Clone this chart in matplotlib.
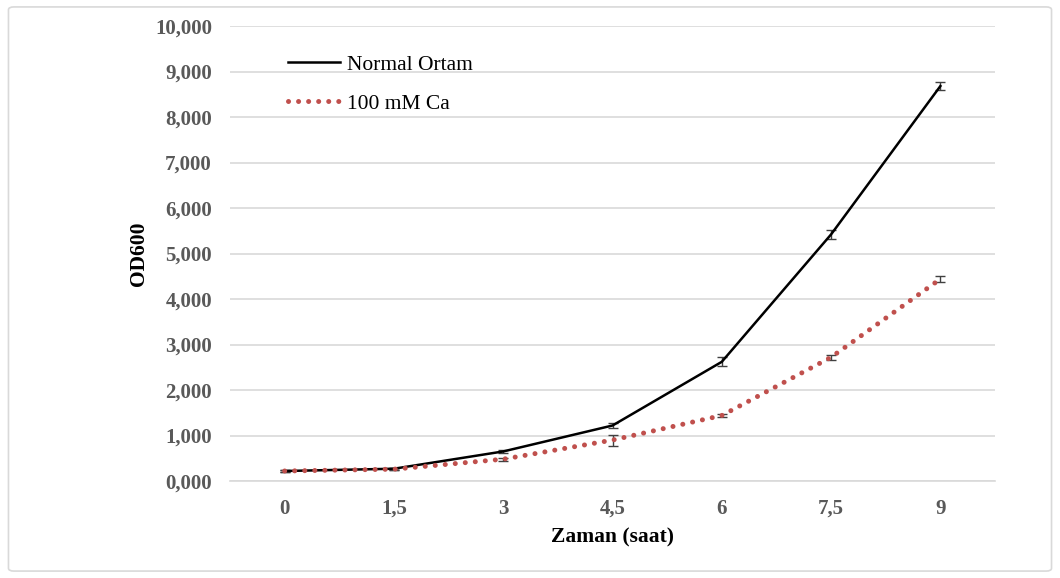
import matplotlib.pyplot as plt
from matplotlib.patches import FancyBboxPatch
from matplotlib.ticker import FuncFormatter

plt.rcParams['font.family'] = ['Liberation Serif', 'DejaVu Serif']

times = ['0', '1,5', '3', '4,5', '6', '7,5', '9']
normal = [0.22, 0.27, 0.65, 1.22, 2.62, 5.42, 8.68]
normal_err = [0.02, 0.02, 0.03, 0.05, 0.10, 0.10, 0.08]
calcium = [0.22, 0.26, 0.48, 0.90, 1.44, 2.72, 4.44]
calcium_err = [0.02, 0.02, 0.03, 0.12, 0.03, 0.05, 0.07]

fig = plt.figure(figsize=(10.6, 5.78), dpi=100)
fig.patches.append(FancyBboxPatch((0.008, 0.012), 0.984, 0.976, boxstyle='round,pad=0,rounding_size=0.005',
                                  transform=fig.transFigure, fill=False, edgecolor='#d9d9d9', linewidth=1.2))
ax = fig.add_axes([0.217, 0.1678, 0.7217, 0.7872])

x = list(range(len(times)))
ax.errorbar(x, normal, yerr=normal_err, color='black', lw=1.8, ecolor='#404040', elinewidth=1,
            capsize=3.5, capthick=1, label='Normal Ortam', zorder=3)
ax.errorbar(x, calcium, yerr=calcium_err, color='#c0504d', lw=3.6, ls=(0, (0.01, 2.0)),
            dash_capstyle='round', ecolor='#404040', elinewidth=1, capsize=3.5, capthick=1,
            label='100 mM Ca', zorder=3)

ax.set_xlim(-0.5, 6.5)
ax.set_ylim(0, 10)
ax.set_yticks(range(0, 11))
ax.yaxis.set_major_formatter(FuncFormatter(lambda v, p: '{:d},000'.format(int(v))))
ax.set_xticks(x)
ax.set_xticklabels(times)
ax.grid(axis='y', color='#d9d9d9', lw=1.2)
ax.set_axisbelow(True)
for s in ['top', 'right', 'left']:
    ax.spines[s].set_visible(False)
ax.spines['bottom'].set_color('#d9d9d9')
ax.spines['bottom'].set_linewidth(1.2)
ax.tick_params(length=0, labelsize=15, labelcolor='#595959')
ax.tick_params(axis='x', pad=13)
ax.tick_params(axis='y', pad=13)
for lab in ax.get_xticklabels() + ax.get_yticklabels():
    lab.set_fontweight('bold')

ax.set_xlabel('Zaman (saat)', fontsize=15.5, fontweight='bold', labelpad=6)
ax.set_ylabel('OD600', fontsize=15.5, fontweight='bold', labelpad=4)

handles, labels = ax.get_legend_handles_labels()
handles = [h[0] for h in handles]
ax.legend(handles, labels, loc='upper left', bbox_to_anchor=(0.05, 0.98), frameon=False,
          fontsize=15.5, handlelength=2.45, handletextpad=0.33, labelspacing=0.89)

fig.savefig('out.png', dpi=100)
